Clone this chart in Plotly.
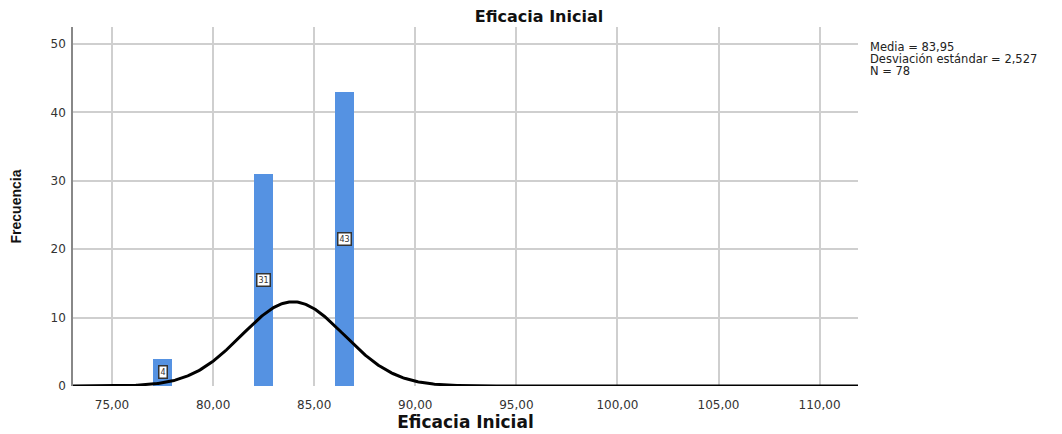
import numpy as np
import plotly.graph_objects as go

# Data
bin_centers = [77.5, 82.5, 86.5]
frequencies = [4, 31, 43]
mean_val = 83.95
sd_val = 2.527
n_val = 78
stats_lines = ["Media = 83,95", "Desviación estándar = 2,527", "N = 78"]
x_ticks = [75, 80, 85, 90, 95, 100, 105, 110]
x_tick_labels = ["75,00", "80,00", "85,00", "90,00", "95,00", "100,00", "105,00", "110,00"]
y_ticks = [0, 10, 20, 30, 40, 50]

x_range = [73.07, 111.9]
y_range = [0, 52.5]

# page body has an 8px default margin; figure coords = screen coords - 8
OFF = 8
L, R, T, B = 73 - OFF, 858 - OFF, 27 - OFF, 386 - OFF
W, H = 1062, 434

fig = go.Figure()
fig.add_trace(go.Bar(
    x=bin_centers, y=frequencies, width=0.95,
    marker=dict(color="#5592e2", line=dict(width=0)),
    showlegend=False, hoverinfo="x+y"
))

# Normal curve from stated mean / sd / N (bin width 1)
xc = np.linspace(x_range[0], x_range[1], 600)
yc = n_val * np.exp(-0.5 * ((xc - mean_val) / sd_val) ** 2) / (sd_val * np.sqrt(2 * np.pi))
fig.add_trace(go.Scatter(x=xc, y=yc, mode="lines",
                         line=dict(color="black", width=3), showlegend=False))

for xv, yv in zip(bin_centers, frequencies):
    fig.add_annotation(x=xv, y=yv / 2, text=str(yv), showarrow=False,
                       font=dict(family="DejaVu Sans", size=8, color="#333"),
                       bgcolor="white", bordercolor="#333", borderwidth=1.5, borderpad=1)

for i, line in enumerate(stats_lines):
    ys = 47 + i * 12
    fig.add_annotation(
        xref="paper", yref="paper", x=(868 - 73) / (858 - 73), y=(386 - ys) / (386 - 27),
        xanchor="left", yanchor="middle", text=line, showarrow=False, align="left",
        font=dict(family="DejaVu Sans", size=11.5, color="#222"))

fig.update_layout(
    width=W, height=H,
    margin=dict(l=L, r=W - R, t=T, b=H - B),
    plot_bgcolor="white", paper_bgcolor="white",
    title=dict(text="<b>Eficacia Inicial</b>", x=(539 - OFF) / W, xanchor="center",
               xref="container", y=1 - (16 - OFF) / H, yanchor="middle",
               font=dict(family="DejaVu Sans", size=16, color="#111")),
    bargap=0,
    xaxis=dict(range=x_range, tickvals=x_ticks, ticktext=x_tick_labels,
               showgrid=True, gridcolor="#cfcfcf", gridwidth=1.5,
               zeroline=False, showline=False, ticks="outside", ticklen=8,
               tickcolor="rgba(0,0,0,0)", automargin=False,
               tickfont=dict(family="DejaVu Sans", size=12, color="#333"),
               title=dict(text="<b>Eficacia Inicial</b>", standoff=4,
                          font=dict(family="DejaVu Sans", size=17, color="#111"))),
    yaxis=dict(range=y_range, tickvals=y_ticks,
               showgrid=True, gridcolor="#cfcfcf", gridwidth=1.5,
               zeroline=False, showline=True, linecolor="#888", linewidth=1.5,
               ticks="outside", ticklen=3, tickcolor="rgba(0,0,0,0)", automargin=False,
               tickfont=dict(family="DejaVu Sans", size=12, color="#333"),
               title=dict(text="<b>Frecuencia</b>", standoff=26,
                          font=dict(family="Liberation Sans, Arial", size=14, color="#111"))),
)

fig.write_html("out.html")
